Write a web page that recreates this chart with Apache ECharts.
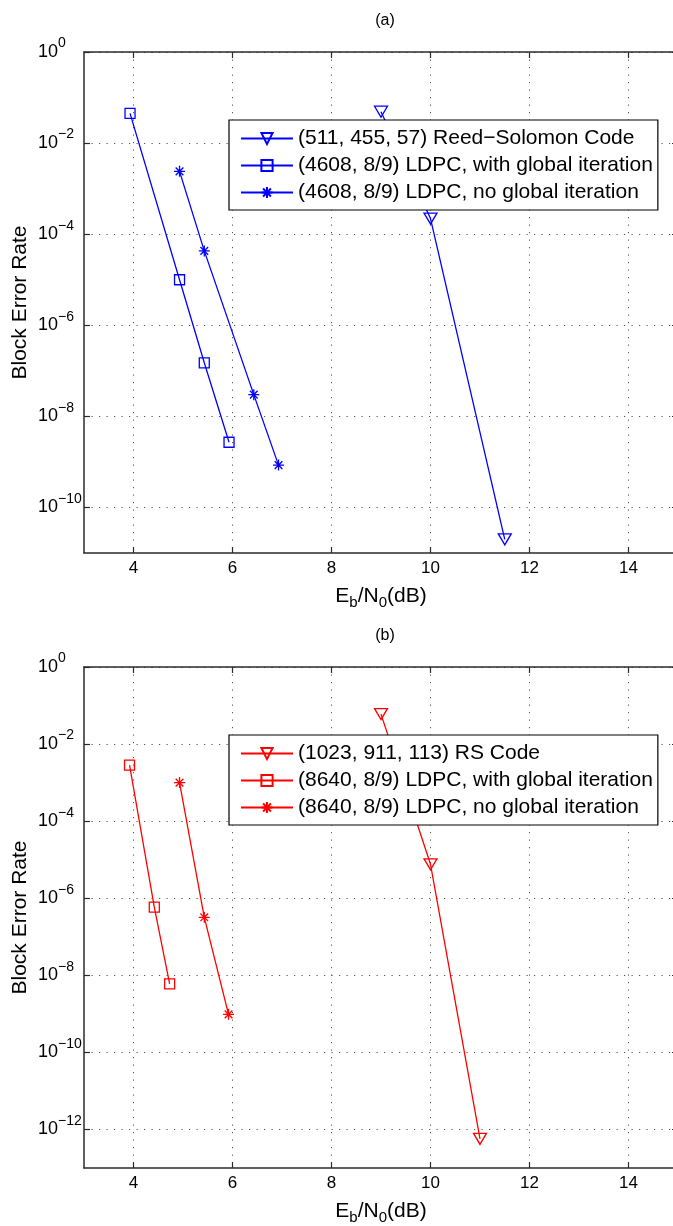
<!DOCTYPE html>
<html><head><meta charset="utf-8">
<script src="https://cdn.jsdelivr.net/npm/echarts@6/dist/echarts.min.js"></script>
<style>html,body{margin:0;padding:0;background:#fff}#c{width:673px;height:1226px}</style>
</head><body><div id="c"></div>
<script>
// ---- data ----
const xTickValues = [4, 6, 8, 10, 12, 14];
const yTickExpA = [0, -2, -4, -6, -8, -10];
const yTickExpB = [0, -2, -4, -6, -8, -10, -12];

const namesA = ['(511, 455, 57) Reed\u2212Solomon Code', '(4608, 8/9) LDPC, with global iteration', '(4608, 8/9) LDPC, no global iteration'];
const rsA_x = [9, 10, 11.5];
const rsA_y = [4.9e-2, 2.2e-4, 2e-11];
const ldpcWithA_x = [3.93, 4.93, 5.43, 5.93];
const ldpcWithA_y = [4.5e-2, 1e-5, 1.5e-7, 2.7e-9];
const ldpcNoA_x = [4.93, 5.43, 6.43, 6.93];
const ldpcNoA_y = [2.4e-3, 4.3e-5, 3e-8, 8.5e-10];

const namesB = ['(1023, 911, 113) RS Code', '(8640, 8/9) LDPC, with global iteration', '(8640, 8/9) LDPC, no global iteration'];
const rsB_x = [9, 10, 11];
const rsB_y = [6e-2, 7.6e-6, 5.7e-13];
const ldpcWithB_x = [3.92, 4.42, 4.73];
const ldpcWithB_y = [2.85e-3, 5.9e-7, 6e-9];
const ldpcNoB_x = [4.93, 5.43, 5.92];
const ldpcNoB_y = [1e-3, 3.2e-7, 9.7e-10];

// ---- styling ----
const FONT = 'Liberation Sans, Arial, Helvetica, sans-serif';
const AXIS_COLOR = '#2b2b2b';
const GRID_COLOR = '#555';
const ASTERISK = 'path://M10,0L10,20M0,10L20,10M3,3L17,17M3,17L17,3';

function pts(xs, ys) { return xs.map((x, i) => [x, ys[i]]); }
function supLabel(v) {
  const e = Math.round(Math.log10(v));
  return '{b|10}{e|' + String(e).replace('-', '\u2212') + '}';
}

const grids = [
  { left: 84, top: 52, width: 594, height: 501, outerBoundsMode: 'none', containLabel: false },
  { left: 84, top: 667, width: 594, height: 501, outerBoundsMode: 'none', containLabel: false }
];

const xAxes = [];
const yAxes = [];
[0, 1].forEach(g => {
  xAxes.push({
    type: 'value', gridIndex: g, min: 3, max: 15, position: 'bottom',
    axisLine: { show: true, lineStyle: { color: AXIS_COLOR, width: 1.5 } },
    axisTick: { show: true, inside: true, length: 6, customValues: xTickValues, lineStyle: { color: AXIS_COLOR, width: 1.2 } },
    axisLabel: { show: true, customValues: xTickValues, margin: 7, color: '#000', fontFamily: FONT, fontSize: 17 },
    splitLine: { show: true, lineStyle: { color: GRID_COLOR, type: [1.2, 6.3], width: 1 } },
    name: '{a|E}{s|b}{a|/N}{s|0}{a|(dB)}',
    nameLocation: 'middle', nameGap: 30, nameMoveOverlap: false,
    nameTextStyle: {
      color: '#000', fontFamily: FONT,
      rich: {
        a: { fontSize: 21, fontFamily: FONT, color: '#000' },
        s: { fontSize: 15, fontFamily: FONT, color: '#000', padding: [12, 0, 0, 0] }
      }
    }
  });
  xAxes.push({
    type: 'value', gridIndex: g, min: 3, max: 15, position: 'top',
    axisLine: { show: true, lineStyle: { color: AXIS_COLOR, width: 1.5 } },
    axisTick: { show: true, inside: true, length: 6, customValues: xTickValues, lineStyle: { color: AXIS_COLOR, width: 1.2 } },
    axisLabel: { show: false }, splitLine: { show: false }
  });
  const exps = g === 0 ? yTickExpA : yTickExpB;
  const vals = exps.map(e => Math.pow(10, e));
  yAxes.push({
    type: 'log', logBase: 10, gridIndex: g, min: g === 0 ? 1e-11 : 1e-13, max: 1, position: 'left',
    axisLine: { show: true, lineStyle: { color: AXIS_COLOR, width: 1.5 } },
    axisTick: { show: true, inside: true, length: 6, customValues: vals, lineStyle: { color: AXIS_COLOR, width: 1.2 } },
    axisLabel: {
      show: true, customValues: vals, margin: 46, align: 'left', formatter: supLabel,
      rich: {
        b: { fontSize: 18, fontFamily: FONT, color: '#000' },
        e: { fontSize: 14, fontFamily: FONT, color: '#000', padding: [0, 0, 17, 0] }
      }
    },
    splitLine: { show: true, lineStyle: { color: GRID_COLOR, type: [1.2, 6.3], width: 1 } },
    name: 'Block Error Rate', nameLocation: 'middle', nameGap: 53, nameMoveOverlap: false,
    nameTextStyle: { color: '#000', fontFamily: FONT, fontSize: 21 }
  });
  yAxes.push({
    type: 'log', logBase: 10, gridIndex: g, min: g === 0 ? 1e-11 : 1e-13, max: 1, position: 'right',
    axisLine: { show: true, lineStyle: { color: AXIS_COLOR, width: 1.5 } },
    axisTick: { show: true, inside: true, length: 6, customValues: vals, lineStyle: { color: AXIS_COLOR, width: 1.2 } },
    axisLabel: { show: false }, splitLine: { show: false }
  });
});

function mkSeries(name, data, color, symbol, size, rotate, gi) {
  return {
    type: 'line', name: name, data: data,
    xAxisIndex: gi * 2, yAxisIndex: gi * 2,
    symbol: symbol, symbolSize: size, symbolRotate: rotate,
    showAllSymbol: true,
    lineStyle: { color: color, width: 1.3 },
    itemStyle: { color: 'rgba(0,0,0,0)', borderColor: color, borderWidth: 1.3 },
    emphasis: { disabled: true },
    animation: false
  };
}

const BLUE = '#0000ff';
const RED = '#ff0000';
const series = [
  mkSeries(namesA[0], pts(rsA_x, rsA_y), BLUE, 'triangle', [13, 11], 180, 0),
  mkSeries(namesA[1], pts(ldpcWithA_x, ldpcWithA_y), BLUE, 'rect', 10, 0, 0),
  mkSeries(namesA[2], pts(ldpcNoA_x, ldpcNoA_y), BLUE, ASTERISK, 11, 0, 0),
  mkSeries(namesB[0], pts(rsB_x, rsB_y), RED, 'triangle', [13, 11], 180, 1),
  mkSeries(namesB[1], pts(ldpcWithB_x, ldpcWithB_y), RED, 'rect', 10, 0, 1),
  mkSeries(namesB[2], pts(ldpcNoB_x, ldpcNoB_y), RED, ASTERISK, 11, 0, 1)
];

function mkLegend(names, top) {
  return {
    data: names, orient: 'vertical', left: 229, top: top,
    padding: [8, 5, 7, 11], itemGap: 6, itemWidth: 52, itemHeight: 14,
    backgroundColor: '#fff', borderColor: '#000', borderWidth: 1.2, borderRadius: 0,
    selectedMode: false,
    textStyle: { color: '#000', fontFamily: FONT, fontSize: 21, lineHeight: 20 }
  };
}

const chart = echarts.init(document.getElementById('c'), null, { renderer: 'canvas' });
chart.setOption({
  backgroundColor: '#fff',
  animation: false,
  title: [
    { text: '(a)', left: 380, top: 8, textAlign: 'center', textStyle: { fontFamily: FONT, fontSize: 16, fontWeight: 'normal', color: '#000' } },
    { text: '(b)', left: 380, top: 623, textAlign: 'center', textStyle: { fontFamily: FONT, fontSize: 16, fontWeight: 'normal', color: '#000' } }
  ],
  grid: grids,
  xAxis: xAxes,
  yAxis: yAxes,
  legend: [mkLegend(namesA, 120), mkLegend(namesB, 735)],
  series: series
});
</script>
</body></html>
